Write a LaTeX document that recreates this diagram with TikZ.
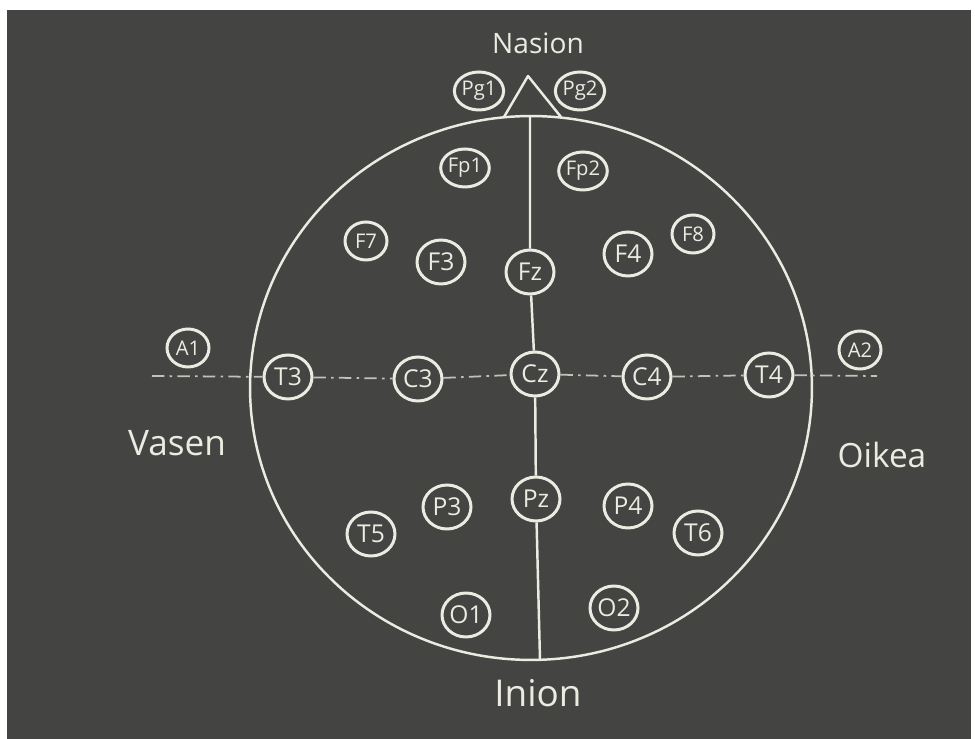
\documentclass[tikz,border=0pt]{standalone}
\usepackage{fontspec}
\setmainfont{Open Sans}
\usepackage{tikz}
\usetikzlibrary{shapes.geometric}

\definecolor{board}{RGB}{68,69,67}
\definecolor{chalk}{RGB}{236,235,226}

\begin{document}
\begin{tikzpicture}[x=0.02cm, y=-0.02cm,
  electrode/.style={ellipse, draw=chalk, fill=board, line width=1.7pt,
    text=chalk, minimum width=0.96cm, minimum height=0.88cm, inner sep=0pt,
    font=\fontsize{14}{15}\selectfont},
  electrode small/.style={electrode, minimum width=0.84cm,
    minimum height=0.76cm, font=\fontsize{11.5}{12}\selectfont},
  chalk line/.style={draw=chalk, line width=1.4pt},
  axis line/.style={draw=chalk!75!board, line width=1pt,
    dash pattern=on 7pt off 3pt on 1.5pt off 3pt},
  side label/.style={text=chalk, inner sep=0pt}]

%% =============== Board ===============
\fill[white] (0,0) rectangle (975,739);
\fill[board] (7,10) rectangle (971,739);
\useasboundingbox (0,0) rectangle (975,739);

% --- Head outline ---
\draw[chalk line] (531,388) ellipse (5.62cm and 5.44cm);

% --- Nose (nasion) ---
\coordinate (nasL) at (504,117);
\coordinate (apex) at (528,76);
\coordinate (nasR) at (561,117);
\draw[chalk line, line join=round] (nasL) -- (apex) -- (nasR);

% --- Midline end points ---
\coordinate (nasionBase) at (530,116);
\coordinate (inionBase) at (540,660);
\coordinate (earL) at (152,376);
\coordinate (earR) at (877,376);

% --- Electrodes ---
\node[electrode small] (Pg1) at (479,91)  {Pg1};
\node[electrode small] (Pg2) at (580,91)  {Pg2};
\node[electrode small] (Fp1) at (465,168) {Fp1};
\node[electrode small] (Fp2) at (583,171) {Fp2};
\node[electrode small] (F7)  at (366,241) {F7};
\node[electrode]       (F3)  at (441,262) {F3};
\node[electrode]       (Fz)  at (530,272) {Fz};
\node[electrode]       (F4)  at (628,254) {F4};
\node[electrode small] (F8)  at (693,234) {F8};
\node[electrode small] (A1)  at (188,348) {A1};
\node[electrode]       (T3)  at (288,377) {T3};
\node[electrode]       (C3)  at (418,379) {C3};
\node[electrode]       (Cz)  at (535,374) {Cz};
\node[electrode]       (C4)  at (647,377) {C4};
\node[electrode]       (T4)  at (769,375) {T4};
\node[electrode small] (A2)  at (860,350) {A2};
\node[electrode]       (T5)  at (371,534) {T5};
\node[electrode]       (P3)  at (447,507) {P3};
\node[electrode]       (Pz)  at (536,499) {Pz};
\node[electrode]       (P4)  at (628,506) {P4};
\node[electrode]       (T6)  at (698,533) {T6};
\node[electrode]       (O1)  at (466,615) {O1};
\node[electrode]       (O2)  at (614,608) {O2};

% --- Midline and ear-to-ear line ---
\draw[chalk line] (nasionBase) -- (Fz) -- (Cz) -- (Pz) -- (inionBase);
\draw[axis line] (earL) -- (T3) -- (C3) -- (Cz) -- (C4) -- (T4) -- (earR);

% --- Labels ---
\node[side label, font=\fontsize{16}{18}\selectfont] (nasion) at (538,43)  {Nasion};
\node[side label, font=\fontsize{20}{22}\selectfont] (vasen)  at (177,443) {Vasen};
\node[side label, font=\fontsize{19}{21}\selectfont] (oikea)  at (882,455) {Oikea};
\node[side label, font=\fontsize{21}{23}\selectfont] (inion)  at (538,693) {Inion};

\end{tikzpicture}
\end{document}
